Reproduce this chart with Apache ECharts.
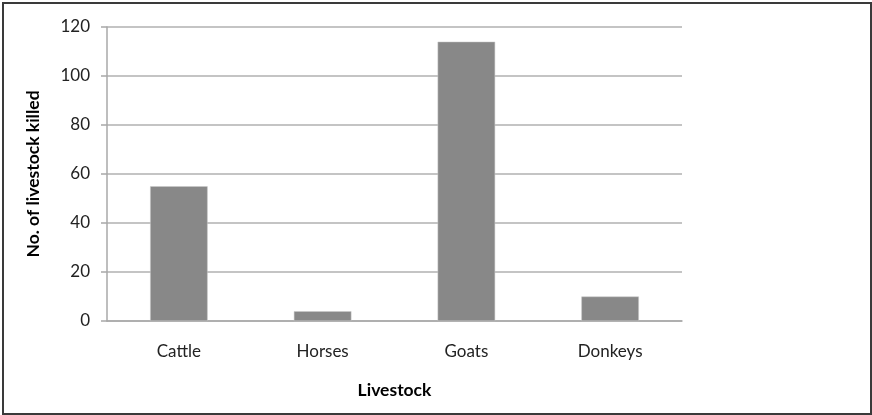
<!DOCTYPE html>
<html>
<head>
<meta charset="utf-8">
<script src="https://cdn.jsdelivr.net/npm/echarts@6/dist/echarts.min.js"></script>
<style>
html,body{margin:0;padding:0;background:#fff;}
#wrap{position:absolute;left:2px;top:2px;width:866px;height:409px;border:2px solid #3a3a3a;box-sizing:content-box;}
#chart{width:866px;height:409px;}
</style>
</head>
<body>
<div id="wrap"><div id="chart"></div></div>
<script>
const categories = ['Cattle', 'Horses', 'Goats', 'Donkeys'];
const values = [55, 4, 114, 10];
const yTicks = [0, 20, 40, 60, 80, 100, 120];

const font = 'Lato, "Open Sans", sans-serif';
const chart = echarts.init(document.getElementById('chart'), null, {renderer: 'canvas'});
chart.setOption({
  animation: false,
  grid: {left: 103, top: 23, width: 575, height: 294, containLabel: false},
  xAxis: {
    type: 'category',
    data: categories,
    name: 'Livestock',
    nameLocation: 'middle',
    nameGap: 60,
    nameTextStyle: {fontFamily: font, fontWeight: 'bold', fontSize: 17.5, color: '#000'},
    axisLine: {lineStyle: {color: '#a8a8a8', width: 1.5}},
    axisTick: {show: false},
    axisLabel: {fontFamily: font, fontSize: 17, color: '#222', margin: 22}
  },
  yAxis: {
    type: 'value',
    min: yTicks[0],
    max: yTicks[yTicks.length - 1],
    interval: 20,
    name: 'No. of livestock killed',
    nameLocation: 'middle',
    nameGap: 65,
    nameTextStyle: {fontFamily: font, fontWeight: 'bold', fontSize: 17.5, color: '#000'},
    axisLine: {show: true, lineStyle: {color: '#a8a8a8', width: 1.5}},
    axisTick: {show: true, length: 6, lineStyle: {color: '#a8a8a8', width: 1.5}},
    axisLabel: {fontFamily: font, fontSize: 17, color: '#222', margin: 17},
    splitLine: {show: true, lineStyle: {color: '#b0b0b0', width: 1.5}}
  },
  series: [{
    type: 'bar',
    data: values,
    barWidth: '40%',
    itemStyle: {color: '#888888', borderColor: '#c8c8c8', borderWidth: 0.5}
  }]
});
</script>
</body>
</html>
